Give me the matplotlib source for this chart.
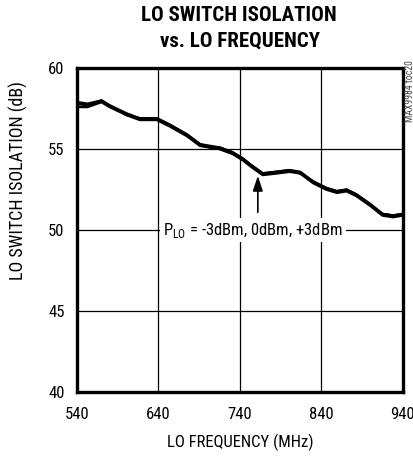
import matplotlib.pyplot as plt

plt.rcParams['font.family'] = ['Roboto Condensed', 'Liberation Sans', 'DejaVu Sans']
plt.rcParams['mathtext.fontset'] = 'custom'
plt.rcParams['mathtext.rm'] = 'Roboto Condensed'

# LO switch isolation vs LO frequency, three LO drive levels
freq = [540, 553, 570, 580, 601, 617, 638, 654, 675, 691, 703, 715, 731, 744,
        754, 768, 785, 801, 814, 830, 846, 859, 871, 883, 900, 915, 928, 940]
iso_m3 = [57.6, 57.6, 57.9, 57.6, 57.1, 56.9, 56.9, 56.5, 55.9, 55.3, 55.1, 55.1, 54.8, 54.4,
          54.0, 53.5, 53.6, 53.7, 53.5, 53.0, 52.6, 52.4, 52.5, 52.2, 51.6, 51.0, 50.9, 51.0]
iso_0 = [57.8, 57.7, 58.0, 57.7, 57.2, 56.9, 56.9, 56.5, 55.9, 55.3, 55.2, 55.1, 54.8, 54.4,
         54.0, 53.5, 53.6, 53.7, 53.6, 53.0, 52.6, 52.4, 52.5, 52.2, 51.6, 51.0, 50.9, 51.0]
iso_p3 = [57.9, 57.8, 58.0, 57.7, 57.1, 56.8, 56.8, 56.4, 55.8, 55.2, 55.1, 55.0, 54.7, 54.3,
          53.9, 53.4, 53.5, 53.6, 53.5, 52.9, 52.5, 52.3, 52.4, 52.1, 51.5, 50.9, 50.8, 50.9]

xticks = [540, 640, 740, 840, 940]
yticks = [40, 45, 50, 55, 60]

fig = plt.figure(figsize=(4.14, 4.57), dpi=100)
ax = fig.add_axes([0.186, 0.142, 0.787, 0.709])

for iso in (iso_m3, iso_0, iso_p3):
    ax.plot(freq, iso, color='black', lw=1.8, solid_joinstyle='round')

ax.set_xlim(540, 940)
ax.set_ylim(40, 60)
ax.set_xticks(xticks)
ax.set_yticks(yticks)
ax.grid(True, color='black', lw=0.9)
ax.tick_params(length=0, labelsize=12)
ax.tick_params(axis='x', pad=11)
ax.tick_params(axis='y', pad=9)
for s in ax.spines.values():
    s.set_linewidth(2.4)

ax.annotate('', xy=(762, 53.35), xytext=(762, 51.1),
            arrowprops=dict(arrowstyle='-|>,head_length=0.9,head_width=0.3',
                            color='black', lw=1.2, shrinkA=0, shrinkB=0))
ax.text(756, 50.0, r'P$_{\mathrm{LO}}$ = -3dBm, 0dBm, +3dBm', fontsize=12,
        ha='center', va='center',
        bbox=dict(facecolor='white', edgecolor='none', pad=2))

fig.text(0.576, 0.966, 'LO SWITCH ISOLATION', ha='center', va='center',
         fontsize=15, fontweight='bold')
fig.text(0.58, 0.910, 'vs. LO FREQUENCY', ha='center', va='center',
         fontsize=15, fontweight='bold')
ax.set_xlabel('LO FREQUENCY (MHz)', fontsize=12, labelpad=8)
fig.text(0.045, 0.604, 'LO SWITCH ISOLATION (dB)', rotation=90,
         ha='center', va='center', fontsize=13)
fig.text(0.99, 0.80, 'MAX9984 toc20', rotation=90, ha='center', va='center',
         fontsize=7, color='#444444')

fig.savefig('out.png', dpi=100)
